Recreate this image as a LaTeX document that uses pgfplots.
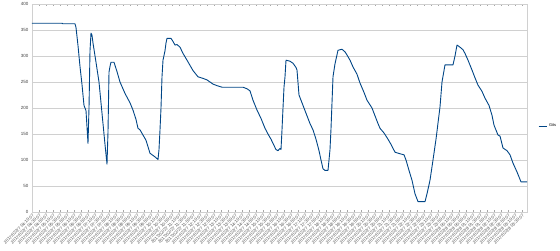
\documentclass[border=0pt]{standalone}
\usepackage{pgfplots}
\pgfplotsset{compat=1.18}
\usepackage{fontspec}
\setmainfont{Liberation Sans}
\definecolor{series}{HTML}{004586}
\definecolor{gridc}{HTML}{D0D0D0}
\newcommand\ts[2]{2017/02/#1 #2:07}
\begin{document}
\begin{tikzpicture}
\begin{axis}[
  scale only axis,
  width=495pt, height=208pt,
  xmin=0, xmax=495, ymin=0, ymax=400,
  ytick={0,50,...,400},
  ymajorgrids, grid style={gridc, line width=0.5pt},
  axis line style={gridc},
  tick style={gray!70},
  major tick length=2pt,
  ytick style={draw=none},
  xtick={0,7,...,490},
  xticklabels={\ts{27}{04:10},\ts{27}{04:30},\ts{27}{04:50},\ts{27}{05:10},\ts{27}{05:30},\ts{27}{05:50},\ts{27}{06:10},\ts{27}{06:30},\ts{27}{06:50},\ts{27}{07:10},\ts{27}{07:30},\ts{27}{07:50},\ts{27}{08:10},\ts{27}{08:30},\ts{27}{08:50},\ts{27}{09:10},\ts{27}{09:30},\ts{27}{09:50},\ts{27}{10:10},\ts{27}{10:30},\ts{27}{10:50},\ts{27}{11:10},\ts{27}{11:30},\ts{27}{11:50},\ts{27}{12:10},\ts{27}{12:30},\ts{27}{12:50},\ts{27}{13:10},\ts{27}{13:30},\ts{27}{13:50},\ts{27}{14:10},\ts{27}{14:30},\ts{27}{14:50},\ts{27}{15:10},\ts{27}{15:30},\ts{27}{15:50},\ts{27}{16:10},\ts{27}{16:30},\ts{27}{16:50},\ts{27}{17:10},\ts{27}{17:30},\ts{27}{17:50},\ts{27}{18:10},\ts{27}{18:30},\ts{27}{18:50},\ts{27}{19:10},\ts{27}{19:30},\ts{27}{19:50},\ts{27}{20:10},\ts{27}{20:30},\ts{27}{20:50},\ts{27}{21:10},\ts{27}{21:30},\ts{27}{21:50},\ts{27}{22:10},\ts{27}{22:30},\ts{27}{22:50},\ts{27}{23:10},\ts{27}{23:30},\ts{27}{23:50},\ts{28}{00:10},\ts{28}{00:30},\ts{28}{00:50},\ts{28}{01:10},\ts{28}{01:30},\ts{28}{01:50},\ts{28}{02:10},\ts{28}{02:30},\ts{28}{02:50},\ts{28}{03:10},\ts{28}{03:30}},
  x tick label style={rotate=45, anchor=north east, font=\fontsize{4.4}{5}\selectfont, text=black!70, inner sep=0.8pt},
  y tick label style={font=\fontsize{4.5}{5}\selectfont, text=black!75},
  /pgf/number format/assume math mode=true,
  title={Gits}, title style={font=\fontsize{3}{3.5}\selectfont, text=black!70, at={(rel axis cs:0.5,1)}, anchor=south, yshift=0.3pt, inner sep=0pt},
  legend style={at={([xshift=11pt]rel axis cs:1,0.413)}, anchor=west, draw=none, font=\fontsize{4}{5}\selectfont, inner sep=0pt, row sep=0pt},
  legend cell align=left,
  legend image code/.code={\draw[#1] (0pt,0pt) -- (8pt,0pt);},
]
\coordinate (O) at (rel axis cs:0,0);
\addplot[series, line width=0.9pt, line join=round, mark=none] coordinates {
(0,363)(30,363)(31,362)(43,362)(44,355)(46,320)(48,280)(50,245)(52,205)(54,195)(56,132)(57,200)(58,310)(59,344)(60,340)(61,325)(64,288)(67,250)(69,210)(71,170)(73,130)(75,92)(76,154)(77,269)(78,280)(79,288)(82,288)(85,270)(88,250)(93,228)(98,210)(101,196)(104,178)(106,161)(108,158)(114,138)(118,113)(123,106)(126,101)(127,120)(128,158)(129,200)(130,260)(131,292)(133,310)(134,325)(135,334)(139,334)(141,328)(143,321)(145,322)(148,317)(151,305)(155,292)(158,282)(161,272)(166,260)(171,257)(175,254)(178,250)(181,246)(185,243)(190,240)(211,240)(215,237)(218,233)(221,215)(225,196)(229,180)(233,161)(236,150)(239,140)(242,128)(244,120)(246,118)(248,122)(249,120)(250,158)(251,200)(252,240)(253,260)(254,292)(258,290)(261,286)(264,278)(265,273)(267,225)(271,205)(275,185)(278,170)(281,158)(284,140)(287,118)(289,100)(291,83)(293,80)(296,80)(298,120)(299,160)(301,260)(303,285)(306,311)(310,313)(313,308)(315,302)(318,292)(321,279)(325,265)(328,248)(332,230)(335,215)(338,206)(340,200)(343,185)(346,170)(348,161)(352,152)(356,140)(359,130)(363,115)(368,112)(372,110)(374,100)(377,80)(380,61)(383,35)(386,20)(393,20)(395,35)(398,61)(401,100)(404,140)(408,202)(410,250)(413,283)(421,283)(423,300)(425,321)(428,317)(431,312)(433,305)(436,292)(440,273)(443,258)(446,244)(450,232)(453,219)(457,205)(460,186)(462,167)(466,148)(468,146)(471,123)(475,118)(478,110)(481,94)(485,77)(489,58)(495,58)
};
\addlegendentry{Gits}
\end{axis}
\pgfresetboundingbox
\path ([shift={(-32pt,-38pt)}]O) rectangle ([shift={(528pt,212pt)}]O);
\end{tikzpicture}
\end{document}
